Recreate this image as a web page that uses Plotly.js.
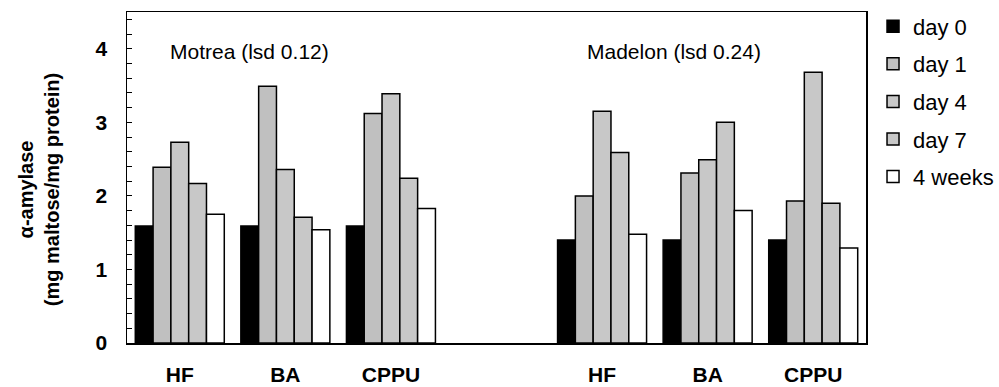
<!DOCTYPE html>
<html><head><meta charset="utf-8">
<script src="https://cdn.plot.ly/plotly-3.0.1.min.js"></script>
<style>html,body{margin:0;padding:0;background:#fff}#c{width:999px;height:387px}</style>
</head><body><div id="c"></div>
<script>
var slots = [0, 1, 2, 4, 5, 6];
var tickLabels = ["HF", "BA", "CPPU", "HF", "BA", "CPPU"];
var seriesNames = ["day 0", "day 1", "day 4", "day 7", "4 weeks"];
var day0   = [1.59, 1.59, 1.59, 1.40, 1.40, 1.40];
var day1   = [2.39, 3.49, 3.12, 2.00, 2.31, 1.93];
var day4   = [2.73, 2.36, 3.39, 3.15, 2.49, 3.68];
var day7   = [2.17, 1.71, 2.24, 2.59, 3.00, 1.90];
var weeks4 = [1.75, 1.54, 1.83, 1.48, 1.80, 1.29];
var groupLabels = ["Motrea (lsd 0.12)", "Madelon (lsd 0.24)"];
var yTitle = "α-amylase<br>(mg maltose/mg protein)";

var colors = ["#000000", "#c0c0c0", "#c8c8c8", "#c8c8c8", "#ffffff"];
var allSeries = [day0, day1, day4, day7, weeks4];
var traces = allSeries.map(function (vals, i) {
  return {
    type: "bar", name: seriesNames[i], x: slots, y: vals,
    legendgroup: "g" + i,
    marker: {color: colors[i], line: {color: "#000", width: 1.5}},
    hoverinfo: "x+y+name"
  };
});
var F = "Liberation Sans, Arial, sans-serif";
var layout = {
  width: 999, height: 387,
  margin: {l: 127, r: 133, t: 12, b: 44, autoexpand: false},
  paper_bgcolor: "#fff", plot_bgcolor: "#fff",
  barmode: "group", bargap: 0.157, bargroupgap: 0,
  showlegend: true,
  legend: {x: 1.0095, xanchor: "left", y: 1.02, yanchor: "top",
    font: {family: F, size: 22, color: "#000"}, tracegroupgap: 6,
    itemwidth: 30, bgcolor: "rgba(0,0,0,0)"},
  xaxis: {range: [-0.5, 6.5], tickmode: "array", tickvals: slots, ticktext: tickLabels,
    ticks: "", showline: true, linecolor: "#000", linewidth: 1.5, mirror: true,
    showgrid: false, zeroline: false,
    tickfont: {family: F, size: 21, color: "#000", weight: "bold"}, ticklabelstandoff: 12},
  yaxis: {range: [0, 4.5], tickmode: "array", tickvals: [0, 1, 2, 3, 4], ticktext: ["0", "1", "2", "3", "4"],
    ticks: "inside", ticklen: 5, tickcolor: "#000", tickwidth: 1,
    minor: {dtick: 0.2, ticks: "inside", ticklen: 5, tickcolor: "#000", tickwidth: 1, showgrid: false},
    showline: true, linecolor: "#000", linewidth: 1.5, mirror: true,
    showgrid: false, zeroline: false,
    tickfont: {family: F, size: 21, color: "#000", weight: "bold"}, ticklabelstandoff: 14},
  annotations: [
    {xref: "x", yref: "y", x: -0.112, y: 3.96, text: groupLabels[0], showarrow: false,
      font: {family: F, size: 21, color: "#000"}, xanchor: "left", yanchor: "middle"},
    {xref: "x", yref: "y", x: 3.838, y: 3.96, text: groupLabels[1], showarrow: false,
      font: {family: F, size: 21, color: "#000"}, xanchor: "left", yanchor: "middle"},
    {xref: "paper", yref: "paper", x: -0.119, y: 0.462, text: yTitle, showarrow: false,
      textangle: -90, font: {family: F, size: 20, color: "#000", weight: "bold"},
      xanchor: "center", yanchor: "middle"}
  ]
};
Plotly.newPlot("c", traces, layout, {displayModeBar: false, staticPlot: true});
</script></body></html>
